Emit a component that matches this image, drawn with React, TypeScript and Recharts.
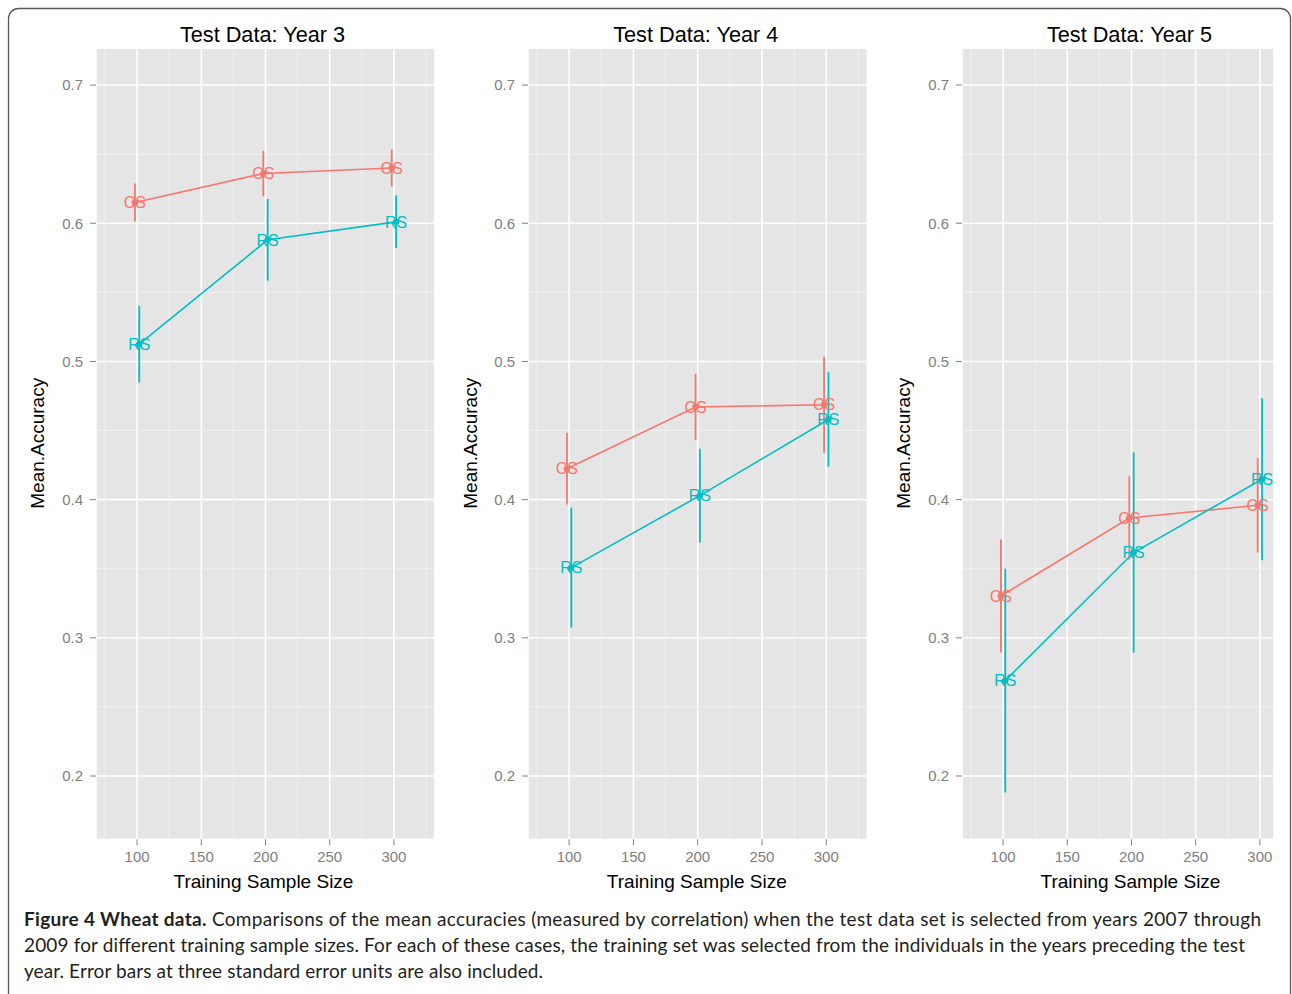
import React from 'react';
import {
  ComposedChart, Scatter, ErrorBar, XAxis, YAxis, CartesianGrid, ReferenceLine,
} from 'recharts';

// sample sizes on the x axis, and the small dodge between the two methods
const sampleSizes = [100, 200, 300];
const DODGE = 1.7;

const xTicks = [100, 150, 200, 250, 300];
const xMinor = [75, 125, 175, 225, 275, 325];
const yTicks = [0.2, 0.3, 0.4, 0.5, 0.6, 0.7];
const yMinor = [0.25, 0.35, 0.45, 0.55, 0.65];
const yDomain: [number, number] = [0.1542, 0.7266];

// Test data year 3
const y3CS = [0.615, 0.636, 0.640];
const y3CSErr = [0.0138, 0.0165, 0.0134];
const y3RS = [0.5125, 0.588, 0.601];
const y3RSErr = [0.0278, 0.0296, 0.019];

// Test data year 4
const y4CS = [0.4224, 0.467, 0.4687];
const y4CSErr = [0.026, 0.024, 0.0347];
const y4RS = [0.3508, 0.4029, 0.458];
const y4RSErr = [0.0434, 0.034, 0.0342];

// Test data year 5
const y5CS = [0.3303, 0.3867, 0.3959];
const y5CSErr = [0.0409, 0.0302, 0.0342];
const y5RS = [0.2691, 0.3617, 0.4147];
const y5RSErr = [0.081, 0.0725, 0.0586];

const titles = ['Test Data: Year 3', 'Test Data: Year 4', 'Test Data: Year 5'];
const xMaxes = [332, 332, 311];

const captionBold = 'Figure 4 Wheat data.';
const captionLines = [
  ' Comparisons of the mean accuracies (measured by correlation) when the test data set is selected from years 2007 through',
  '2009 for different training sample sizes. For each of these cases, the training set was selected from the individuals in the years preceding the test',
  'year. Error bars at three standard error units are also included.',
];

const CS_COLOR = '#F8766D';
const RS_COLOR = '#00BFC4';
const FONT = '"Liberation Sans", Arial, Helvetica, sans-serif';
const GREY = '#7F7F7F';

const PLOT_TOP = 48.3;
const PLOT_BOTTOM = 839.3;

// page layout of each panel (pixels)
const layout = [
  { plotLeft: 95.5, plotRight: 434.5, center: 262.5, yLabelX: 44.3 },
  { plotLeft: 528.3, plotRight: 867.7, center: 695.8, yLabelX: 476.6 },
  { plotLeft: 962, plotRight: 1274, center: 1129.5, yLabelX: 910.3 },
];

const toPoints = (vals: number[], errs: number[], offset: number) =>
  vals.map((y, i) => ({ x: sampleSizes[i] + offset, y, err: errs[i] }));

const panels = [
  { cs: toPoints(y3CS, y3CSErr, -DODGE), rs: toPoints(y3RS, y3RSErr, DODGE) },
  { cs: toPoints(y4CS, y4CSErr, -DODGE), rs: toPoints(y4RS, y4RSErr, DODGE) },
  { cs: toPoints(y5CS, y5CSErr, -DODGE), rs: toPoints(y5RS, y5RSErr, DODGE) },
];

const makeShape = (color: string, label: string) => (props: any) => {
  const { cx, cy } = props;
  if (cx == null || cy == null) return <g />;
  return (
    <g>
      <circle cx={cx} cy={cy} r={3.2} fill={color} />
      <text x={cx} y={cy} dy="0.36em" textAnchor="middle" fontSize={16}
        fontFamily={FONT} fill={color}>{label}</text>
    </g>
  );
};

function Panel({ index }: { index: number }) {
  const l = layout[index];
  const p = panels[index];
  const chartLeft = l.plotLeft - 90;
  const width = l.plotRight + 8 - chartLeft;
  return (
    <div style={{ position: 'absolute', left: chartLeft, top: 0 }}>
      <ComposedChart
        width={width}
        height={PLOT_BOTTOM + 30}
        margin={{ top: PLOT_TOP, right: 8, bottom: 0, left: 40 }}
      >
        <CartesianGrid stroke="#FFFFFF" strokeWidth={1.6} fill="#E5E5E5" fillOpacity={1} />
        {xMinor.map(v => (
          <ReferenceLine key={'mx' + v} x={v} stroke="#F2F2F2" strokeWidth={1} />
        ))}
        {yMinor.map(v => (
          <ReferenceLine key={'my' + v} y={v} stroke="#F2F2F2" strokeWidth={1} />
        ))}
        <XAxis
          type="number"
          dataKey="x"
          domain={[68, xMaxes[index]]}
          ticks={xTicks}
          interval={0}
          allowDataOverflow
          height={30}
          tickSize={6}
          tickMargin={6}
          axisLine={false}
          tickLine={{ stroke: GREY }}
          tick={{ fill: GREY, fontSize: 15, fontFamily: FONT }}
        />
        <YAxis
          type="number"
          dataKey="y"
          domain={yDomain}
          ticks={yTicks}
          interval={0}
          allowDataOverflow
          width={50}
          tickSize={6}
          tickMargin={7}
          axisLine={false}
          tickLine={{ stroke: GREY }}
          tick={{ fill: GREY, fontSize: 15, fontFamily: FONT }}
          tickFormatter={(v: number) => v.toFixed(1)}
        />
        <Scatter
          data={p.cs}
          fill={CS_COLOR}
          line={{ stroke: CS_COLOR, strokeWidth: 1.6 }}
          lineType="joint"
          shape={makeShape(CS_COLOR, 'CS')}
          isAnimationActive={false}
        >
          <ErrorBar dataKey="err" direction="y" width={0} stroke={CS_COLOR}
            strokeWidth={1.8} isAnimationActive={false} />
        </Scatter>
        <Scatter
          data={p.rs}
          fill={RS_COLOR}
          line={{ stroke: RS_COLOR, strokeWidth: 1.6 }}
          lineType="joint"
          shape={makeShape(RS_COLOR, 'RS')}
          isAnimationActive={false}
        >
          <ErrorBar dataKey="err" direction="y" width={0} stroke={RS_COLOR}
            strokeWidth={1.8} isAnimationActive={false} />
        </Scatter>
      </ComposedChart>
    </div>
  );
}

export default function App() {
  return (
    <div>
      {[0, 1, 2].map(i => <Panel key={i} index={i} />)}
      <svg
        width={1292}
        height={994}
        style={{ position: 'absolute', left: 0, top: 0, pointerEvents: 'none' }}
      >
        <rect x={8.5} y={8.5} width={1282} height={1100} rx={10} fill="none"
          stroke="#5a5a5a" strokeWidth={1.3} />
        {layout.map((l, i) => (
          <g key={i} fontFamily={FONT} fill="#000">
            <text x={l.center} y={42.3} textAnchor="middle" fontSize={21.7}>{titles[i]}</text>
            <text x={l.center + 1} y={888} textAnchor="middle" fontSize={19}>Training Sample Size</text>
            <text transform={`translate(${l.yLabelX},443.3) rotate(-90)`} textAnchor="middle"
              fontSize={19}>Mean.Accuracy</text>
          </g>
        ))}
        <g fontFamily="Lato, 'Open Sans', sans-serif" fontSize={19} fill="#231f20">
          <text x={24} y={925.5} textLength={1237} lengthAdjust="spacing">
            <tspan fontWeight="bold">{captionBold}</tspan>{captionLines[0]}
          </text>
          <text x={24} y={951.5} textLength={1221} lengthAdjust="spacing">{captionLines[1]}</text>
          <text x={24} y={977.5} textLength={519} lengthAdjust="spacing">{captionLines[2]}</text>
        </g>
      </svg>
    </div>
  );
}
